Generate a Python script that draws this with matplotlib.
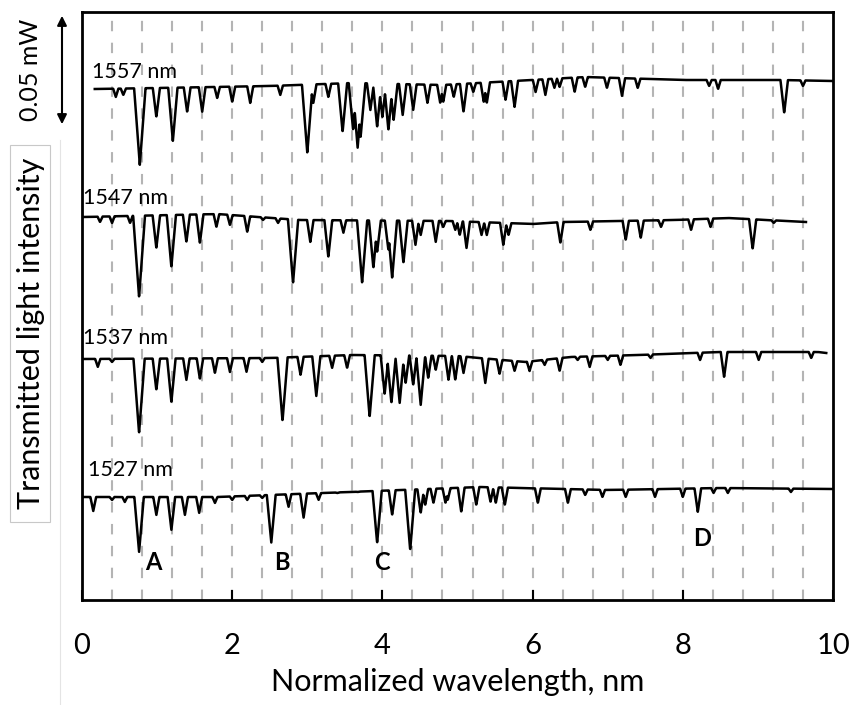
import numpy as np
import matplotlib.pyplot as plt
from matplotlib.lines import Line2D
from matplotlib.patches import Rectangle, FancyArrowPatch

plt.rcParams['font.family'] = ['Lato', 'DejaVu Sans']

# vertical levels are read as image rows (bigger = lower on the plot)
# 1557 nm trace
t1_start, t1_end = 0.17, 10.0
t1_base_x = [0.17, 1.0, 2.5, 3.6, 4.8, 6.7, 8.0, 9.3, 10.0]
t1_base_y = [89, 88, 86, 83, 85, 77, 80, 80, 81]
t1_dip_x = [0.45, 0.55, 0.77, 0.99, 1.21, 1.40, 1.60, 1.80, 2.00, 2.24, 2.64, 3.00, 3.08,
            3.28, 3.47, 3.61, 3.67, 3.71, 3.84, 3.93, 4.00, 4.08, 4.15, 4.27, 4.41, 4.60,
            4.77, 4.81, 4.95, 5.08, 5.21, 5.35, 5.39, 5.64, 5.76, 6.04, 6.17, 6.29, 6.36,
            6.56, 6.70, 6.99, 7.19, 7.40, 8.35, 8.47, 9.35, 9.60]
t1_dip_y = [97, 95, 165, 117, 141, 112, 112, 98, 102, 103, 95, 153, 103,
            97, 132, 130, 148, 137, 110, 127, 117, 130, 120, 115, 110, 103,
            103, 102, 97, 112, 92, 102, 103, 100, 107, 92, 95, 88, 87,
            92, 87, 88, 96, 88, 86, 89, 113, 86]

# 1547 nm trace
t2_start, t2_end = 0.0, 9.64
t2_base_x = [0.0, 1.8, 2.9, 4.9, 6.0, 6.4, 7.9, 8.6, 9.64]
t2_base_y = [217, 214, 220, 221, 224, 222, 220, 218, 222]
t2_dip_x = [0.24, 0.40, 0.64, 0.76, 0.99, 1.19, 1.39, 1.57, 1.79, 1.97, 2.20, 2.41, 2.61,
            2.81, 3.04, 3.28, 3.48, 3.73, 3.88, 3.93, 4.08, 4.13, 4.28, 4.44, 4.51, 4.71,
            4.81, 4.97, 5.03, 5.12, 5.32, 5.39, 5.61, 5.68, 6.37, 6.77, 7.24, 7.44, 7.71,
            8.11, 8.37, 8.93, 9.21]
t2_dip_y = [222, 223, 223, 297, 248, 267, 242, 243, 227, 225, 232, 220, 223,
            283, 242, 257, 233, 283, 268, 252, 250, 278, 263, 245, 235, 242,
            227, 230, 235, 248, 235, 235, 245, 235, 243, 230, 240, 238, 227,
            230, 227, 249, 223]

# 1537 nm trace
t3_start, t3_end = 0.0, 9.91
t3_base_x = [0.0, 2.5, 3.6, 5.0, 5.9, 6.5, 7.4, 8.5, 9.8, 9.91]
t3_base_y = [359, 358, 355, 356, 362, 357, 355, 352, 352, 353]
t3_dip_x = [0.21, 0.40, 0.76, 0.99, 1.19, 1.39, 1.57, 1.77, 1.97, 2.19, 2.40, 2.67, 2.91,
            3.12, 3.33, 3.53, 3.83, 4.03, 4.12, 4.23, 4.31, 4.41, 4.51, 4.61, 4.71, 4.88,
            4.97, 5.08, 5.37, 5.56, 5.76, 5.96, 6.16, 6.36, 6.60, 6.76, 7.00, 7.17, 7.57,
            8.23, 8.55, 9.01, 9.71]
t3_dip_y = [367, 362, 433, 390, 402, 380, 379, 373, 372, 372, 362, 421, 375,
            396, 368, 368, 417, 394, 403, 403, 383, 385, 405, 378, 370, 380,
            380, 373, 383, 374, 371, 371, 365, 371, 360, 367, 360, 365, 358,
            360, 377, 360, 358]

# 1527 nm trace
t4_start, t4_end = 0.0, 10.0
t4_base_x = [0.0, 1.8, 3.2, 4.6, 5.3, 7.0, 8.5, 10.0]
t4_base_y = [497, 497, 493, 489, 487, 490, 488, 489]
t4_dip_x = [0.15, 0.40, 0.57, 0.76, 0.99, 1.19, 1.37, 1.56, 1.77, 2.00, 2.20, 2.40, 2.52,
            2.75, 2.95, 3.15, 3.40, 3.67, 3.93, 4.13, 4.37, 4.51, 4.57, 4.68, 4.84, 4.87,
            5.05, 5.25, 5.44, 5.51, 5.63, 6.07, 6.47, 6.70, 6.93, 7.24, 7.63, 8.00, 8.20,
            8.41, 8.60, 9.44]
t4_dip_y = [511, 500, 502, 552, 515, 530, 515, 513, 503, 500, 500, 498, 543,
            507, 518, 500, 493, 492, 543, 515, 550, 513, 505, 503, 503, 500,
            512, 505, 502, 503, 505, 503, 503, 495, 497, 497, 497, 497, 512,
            493, 493, 492]

wave_labels = ['1557 nm', '1547 nm', '1537 nm', '1527 nm']
wave_label_pos = [(0.13, 72), (0.01, 198), (0.01, 338), (0.08, 470)]
peak_names = ['A', 'B', 'C', 'D']
peak_pos = [(0.95, 563), (2.66, 563), (4.0, 563), (8.25, 538)]

traces = [
    (t1_start, t1_end, t1_base_x, t1_base_y, t1_dip_x, t1_dip_y),
    (t2_start, t2_end, t2_base_x, t2_base_y, t2_dip_x, t2_dip_y),
    (t3_start, t3_end, t3_base_x, t3_base_y, t3_dip_x, t3_dip_y),
    (t4_start, t4_end, t4_base_x, t4_base_y, t4_dip_x, t4_dip_y),
]

fig = plt.figure(figsize=(8.5, 7.05), dpi=100)
ax = fig.add_axes([82 / 850, 105 / 705, 751 / 850, 588 / 705])

# dashed grid every 0.4 nm
for gx in np.arange(0.4, 9.7, 0.4):
    ax.axvline(gx, color='#b4b4b4', lw=1.5, dashes=(5, 5.5), zorder=1)

for start, end, bx, by, dx, dy in traces:
    xs = np.linspace(start, end, 4000)
    base = np.interp(xs, bx, by)
    drop = np.zeros_like(xs)
    for x0, y0 in zip(dx, dy):
        depth = y0 - np.interp(x0, bx, by)
        w = 0.03 + 0.0006 * max(depth, 0)
        prof = depth * np.clip(1 - np.abs(xs - x0) / w, 0, None)
        drop = np.maximum(drop, prof)
    ax.plot(xs, base + drop, color='black', lw=1.8, zorder=3)

for txt, (lx, ly) in zip(wave_labels, wave_label_pos):
    ax.text(lx, ly, txt, fontsize=15.5, ha='left', va='center', zorder=4)

for txt, (lx, ly) in zip(peak_names, peak_pos):
    ax.text(lx, ly, txt, fontsize=17, fontweight='bold', ha='center', va='center', zorder=4)

ax.set_xlim(0, 10)
ax.set_ylim(600, 12)
ax.set_xticks([0, 2, 4, 6, 8, 10])
ax.set_yticks([])
ax.tick_params(axis='x', direction='in', length=7, width=1.5, labelsize=21, pad=24)
for s in ax.spines.values():
    s.set_linewidth(2)
ax.set_xlabel('Normalized wavelength, nm', fontsize=22, labelpad=6)

# scale bar for 0.05 mW
arrow = FancyArrowPatch((62 / 850, 1 - 13 / 705), (62 / 850, 1 - 127 / 705),
                        transform=fig.transFigure, arrowstyle='<|-|>', mutation_scale=14,
                        color='black', lw=1.5)
fig.patches.append(arrow)
fig.text(31 / 850, 1 - 70 / 705, '0.05 mW', rotation=90, fontsize=18, ha='center', va='center')

fig.patches.append(Rectangle((10 / 850, 1 - 522 / 705), 40 / 850, 377 / 705,
                             transform=fig.transFigure, fill=False, ec='#c8c8c8', lw=0.8))
fig.text(31 / 850, 1 - 333 / 705, 'Transmitted light intensity', rotation=90, fontsize=22,
         ha='center', va='center')
fig.lines.append(Line2D([60 / 850, 60 / 850], [0, 1 - 140 / 705], transform=fig.transFigure,
                        color='#e4e4e4', lw=0.8))

fig.savefig('out.png', dpi=100)
